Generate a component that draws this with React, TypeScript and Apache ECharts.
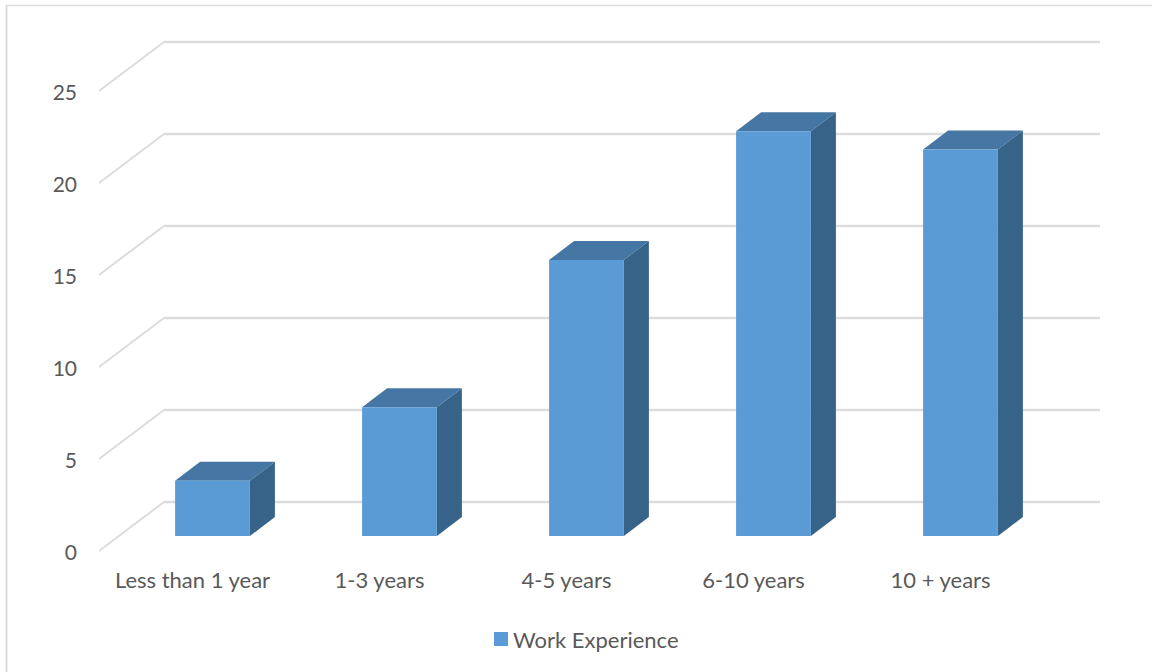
import React, { useEffect, useRef } from "react";
import * as echarts from "echarts";

const categories = ["Less than 1 year", "1-3 years", "4-5 years", "6-10 years", "10 + years"];
const experience = [3, 7, 15, 22, 21];
const gridValues = [0, 5, 10, 15, 20, 25];
const FONT = "Lato";
const TEXT = "#595959";
const GRID = "#dcdcdc";

export default function App() {
  const ref = useRef<HTMLDivElement>(null);
  useEffect(() => {
    document.body.style.margin = "0";
    const chart = echarts.init(ref.current!, null, { renderer: "svg" });
    chart.setOption({
      animation: false,
      backgroundColor: "#ffffff",
      textStyle: { fontFamily: FONT },
      graphic: [
        { type: "line", shape: { x1: 6.5, y1: 5, x2: 6.5, y2: 672 }, style: { stroke: GRID, lineWidth: 2 }, silent: true },
        { type: "line", shape: { x1: 6, y1: 5.5, x2: 1152, y2: 5.5 }, style: { stroke: GRID, lineWidth: 1.5 }, silent: true },
      ],
      grid: { left: 99, width: 935, top: 91, height: 460 },
      legend: {
        data: ["Work Experience"],
        left: 494,
        top: 628,
        padding: 0,
        icon: "rect",
        itemWidth: 14,
        itemHeight: 14,
        itemGap: 6,
        textStyle: { color: TEXT, fontSize: 22, fontFamily: FONT, padding: [0, 0, 7, 0] },
      },
      xAxis: {
        type: "category",
        data: categories,
        axisLine: { show: false },
        axisTick: { show: false },
        splitLine: { show: false },
        axisLabel: { color: TEXT, fontSize: 22, fontFamily: FONT, margin: 17, interval: 0 },
      },
      yAxis: {
        type: "value",
        min: 0,
        max: 25,
        interval: 5,
        axisLine: { show: false },
        axisTick: { show: false },
        splitLine: { show: false },
        axisLabel: { color: TEXT, fontSize: 21, fontFamily: FONT, margin: 22, padding: [0, 0, 4, 0] },
      },
      series: [
        {
          type: "custom",
          name: "grid",
          silent: true,
          z: 1,
          clip: false,
          data: gridValues.map((v) => [0, v]),
          encode: { x: 0, y: 1 },
          renderItem: (_p: any, api: any) => {
            const c = api.coord([0, api.value(1)]);
            const band = api.size([1, 0])[0];
            const x0 = c[0] - band / 2;
            const y0 = c[1];
            return {
              type: "group",
              children: [
                { type: "line", shape: { x1: x0, y1: y0, x2: x0 + 65, y2: y0 - 49 }, style: { stroke: GRID, lineWidth: 2 } },
                { type: "line", shape: { x1: x0 + 65, y1: y0 - 49, x2: x0 + 65 + band * 5 + 1, y2: y0 - 49 }, style: { stroke: GRID, lineWidth: 2.5 } },
              ],
            };
          },
        },
        {
          type: "custom",
          name: "Work Experience",
          z: 2,
          clip: false,
          itemStyle: { color: "#5b9bd5" },
          data: experience.map((v, i) => [i, v]),
          encode: { x: 0, y: 1 },
          renderItem: (_p: any, api: any) => {
            const i = api.value(0);
            const top = api.coord([i, api.value(1)]);
            const base = api.coord([i, 0]);
            const band = api.size([1, 0])[0];
            const w = band * 0.4;
            const x1 = top[0] + 20 - w / 2;
            const x2 = x1 + w;
            const yT = top[1] - 15;
            const yB = base[1] - 15;
            const dx = 25;
            const dy = 19;
            return {
              type: "group",
              children: [
                { type: "polygon", shape: { points: [[x1, yT], [x1 + dx, yT - dy], [x2 + dx, yT - dy], [x2, yT]] }, style: { fill: "#4676a3" } },
                { type: "polygon", shape: { points: [[x2, yT], [x2 + dx, yT - dy], [x2 + dx, yB - dy], [x2, yB]] }, style: { fill: "#376389" } },
                { type: "polygon", shape: { points: [[x1, yT], [x2, yT], [x2, yB], [x1, yB]] }, style: { fill: "#5b9bd5" } },
              ],
            };
          },
        },
      ],
    });
    return () => chart.dispose();
  }, []);
  return <div ref={ref} style={{ width: 1152, height: 672 }} />;
}
